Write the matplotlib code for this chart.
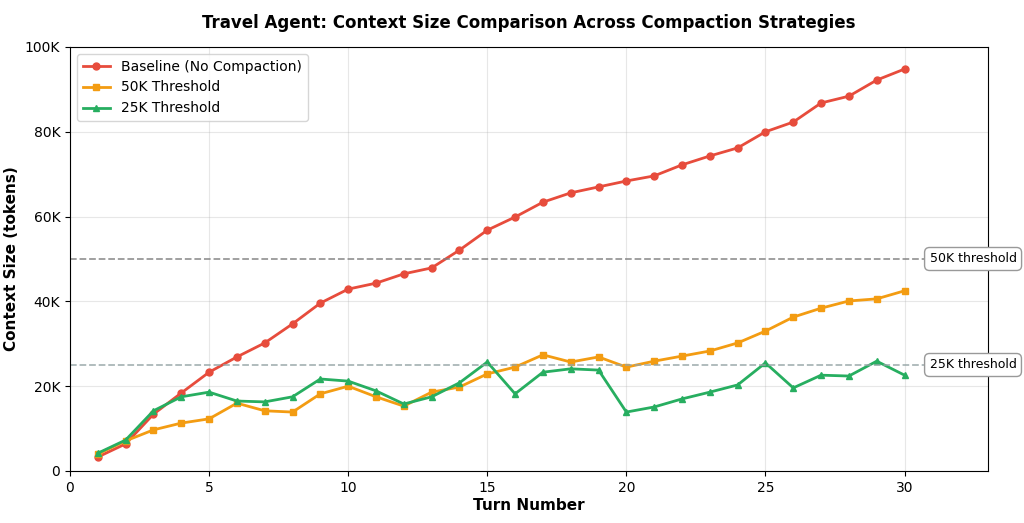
import matplotlib
matplotlib.use("Agg")
import matplotlib.pyplot as plt

turns = list(range(1, 31))
baseline = [3.3, 6.4, 13.4, 18.4, 23.3, 26.9, 30.2, 34.7, 39.6, 42.9, 44.3, 46.5, 47.9, 52.1, 56.8,
            59.9, 63.4, 65.6, 67.0, 68.4, 69.6, 72.2, 74.3, 76.2, 80.0, 82.3, 86.8, 88.4, 92.2, 94.8]
thr50 = [4.0, 7.1, 9.7, 11.3, 12.3, 16.0, 14.2, 13.9, 18.2, 20.0, 17.5, 15.3, 18.6, 19.8, 22.9,
         24.5, 27.4, 25.7, 26.9, 24.5, 25.9, 27.1, 28.3, 30.2, 33.0, 36.3, 38.4, 40.1, 40.6, 42.5]
thr25 = [4.2, 7.3, 14.2, 17.5, 18.6, 16.5, 16.3, 17.5, 21.7, 21.2, 18.9, 15.8, 17.5, 20.8, 25.7,
         18.2, 23.3, 24.1, 23.8, 13.9, 15.1, 17.0, 18.6, 20.3, 25.5, 19.6, 22.6, 22.4, 25.9, 22.6]

to_tok = lambda v: [x * 1000 for x in v]

fig = plt.figure(figsize=(10.24, 5.23), dpi=100)
ax = fig.add_axes([70/1024, 1 - 471/523, 918/1024, 424/523])

ax.plot(turns, to_tok(baseline), "-o", color="#e74c3c", lw=2, ms=5, label="Baseline (No Compaction)")
ax.plot(turns, to_tok(thr50), "-s", color="#f39c12", lw=2, ms=5, label="50K Threshold")
ax.plot(turns, to_tok(thr25), "-^", color="#27ae60", lw=2, ms=5, label="25K Threshold")

ax.axhline(50000, color="#7f7f7f", ls="--", lw=1.3, alpha=0.8)
ax.axhline(25000, color="#95a5a6", ls="--", lw=1.3, alpha=0.8)
box = dict(boxstyle="round,pad=0.4", fc="white", ec="#999999")
ax.text(30.9, 50000, "50K threshold", va="center", fontsize=9, bbox=box)
ax.text(30.9, 25000, "25K threshold", va="center", fontsize=9, bbox=box)

ax.set_xlim(0, 33)
ax.set_ylim(0, 100000)
ax.set_yticks(range(0, 100001, 20000))
ax.set_yticklabels(["0", "20K", "40K", "60K", "80K", "100K"])
ax.grid(True, alpha=0.3)
ax.set_xlabel("Turn Number", fontsize=11, fontweight="bold", labelpad=2)
ax.set_ylabel("Context Size (tokens)", fontsize=11, fontweight="bold")
ax.set_title("Travel Agent: Context Size Comparison Across Compaction Strategies",
             fontsize=12, fontweight="bold", pad=14)
ax.legend(loc="upper left", fontsize=10)

fig.savefig("out.png", dpi=100)
